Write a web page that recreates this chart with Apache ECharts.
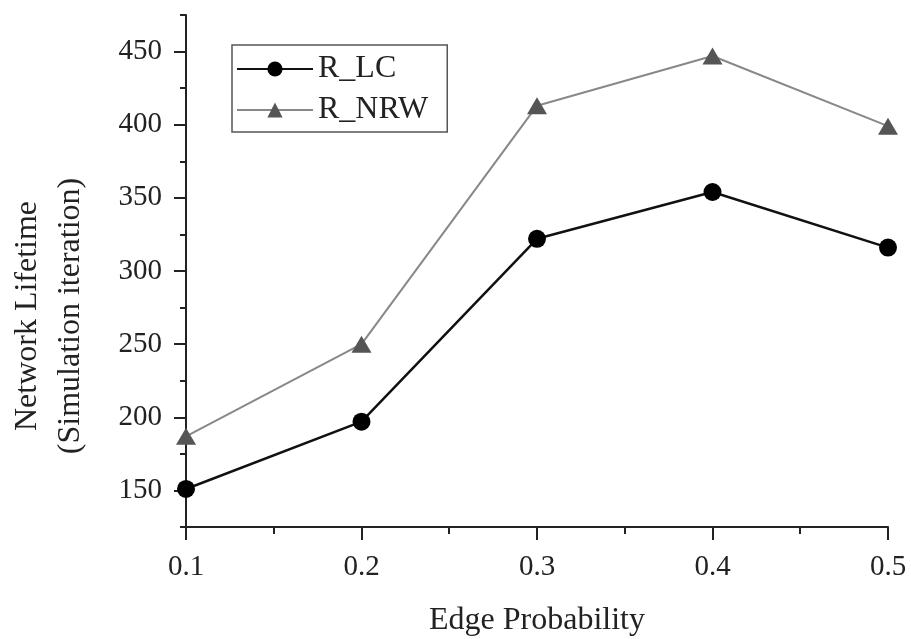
<!DOCTYPE html>
<html>
<head>
<meta charset="utf-8">
<script src="https://cdn.jsdelivr.net/npm/echarts@6/dist/echarts.min.js"></script>
<style>
  html, body { margin: 0; padding: 0; background: #fff; }
  #chart { width: 911px; height: 639px; }
</style>
</head>
<body>
<div id="chart"></div>
<script>
// edge probability on x, lifetime (iterations) on y
const edgeProb = [0.1, 0.2, 0.3, 0.4, 0.5]
const lcValues = [151, 197, 322, 354, 316]
const nrwValues = [187, 250, 413, 447, 399]
const majorTicks = [150, 200, 250, 300, 350, 400, 450]
const minorTicks = [125, 175, 225, 275, 325, 375, 425, 475]

const font = "'Liberation Serif', 'Times New Roman', serif"

const chart = echarts.init(document.getElementById('chart'))

const toPairs = vals => edgeProb.map((x, i) => [x, vals[i]])

chart.setOption({
  animation: false,
  backgroundColor: '#fff',
  grid: { left: 186, right: 23, top: 15, bottom: 112, outerBoundsMode: 'none', containLabel: false },
  legend: {
    orient: 'vertical',
    left: 232,
    top: 45,
    padding: [8, 19, 6, 4],
    itemGap: 9,
    itemWidth: 76,
    itemHeight: 19,
    borderColor: '#555',
    borderWidth: 1.5,
    textStyle: { fontFamily: font, fontSize: 32, color: '#222' },
    data: ['R_LC', 'R_NRW']
  },
  xAxis: {
    type: 'value',
    min: 0.1,
    max: 0.5,
    interval: 0.1,
    name: 'Edge Probability',
    nameLocation: 'middle',
    nameGap: 78,
    nameTextStyle: { fontFamily: font, fontSize: 32, color: '#222' },
    axisLine: { lineStyle: { color: '#222', width: 2 } },
    axisTick: { length: 13, lineStyle: { color: '#222', width: 2 } },
    minorTick: { show: true, splitNumber: 2, length: 7, lineStyle: { color: '#222', width: 2 } },
    axisLabel: {
      margin: 26,
      fontFamily: font,
      fontSize: 29,
      color: '#222',
      formatter: v => v.toFixed(1)
    },
    splitLine: { show: false }
  },
  yAxis: [
    {
      type: 'value',
      min: 125,
      max: 475,
      interval: 25,
      name: 'Network Lifetime\n(Simulation iteration)',
      nameLocation: 'middle',
      nameGap: 94,
      nameRotate: 90,
      nameTextStyle: {
        fontFamily: font, fontSize: 32, color: '#222', lineHeight: 43,
        padding: [0, 90, 0, 0]
      },
      axisLine: { lineStyle: { color: '#222', width: 2 } },
      axisTick: { length: 12, customValues: majorTicks, lineStyle: { color: '#222', width: 2 } },
      axisLabel: {
        margin: 24,
        customValues: majorTicks,
        fontFamily: font,
        fontSize: 29,
        color: '#222'
      },
      splitLine: { show: false }
    },
    {
      type: 'value',
      min: 125,
      max: 475,
      interval: 25,
      position: 'left',
      axisLine: { show: false },
      axisTick: { show: true, length: 6, customValues: minorTicks, lineStyle: { color: '#222', width: 2 } },
      axisLabel: { show: false },
      splitLine: { show: false }
    }
  ],
  series: [
    {
      name: 'R_LC',
      type: 'line',
      data: toPairs(lcValues),
      symbol: 'circle',
      symbolSize: 18,
      lineStyle: { color: '#111', width: 2.5 },
      itemStyle: { color: '#000' }
    },
    {
      name: 'R_NRW',
      type: 'line',
      data: toPairs(nrwValues),
      symbol: 'triangle',
      symbolSize: [20, 17],
      lineStyle: { color: '#888', width: 2 },
      itemStyle: { color: '#555' }
    }
  ]
})
</script>
</body>
</html>
